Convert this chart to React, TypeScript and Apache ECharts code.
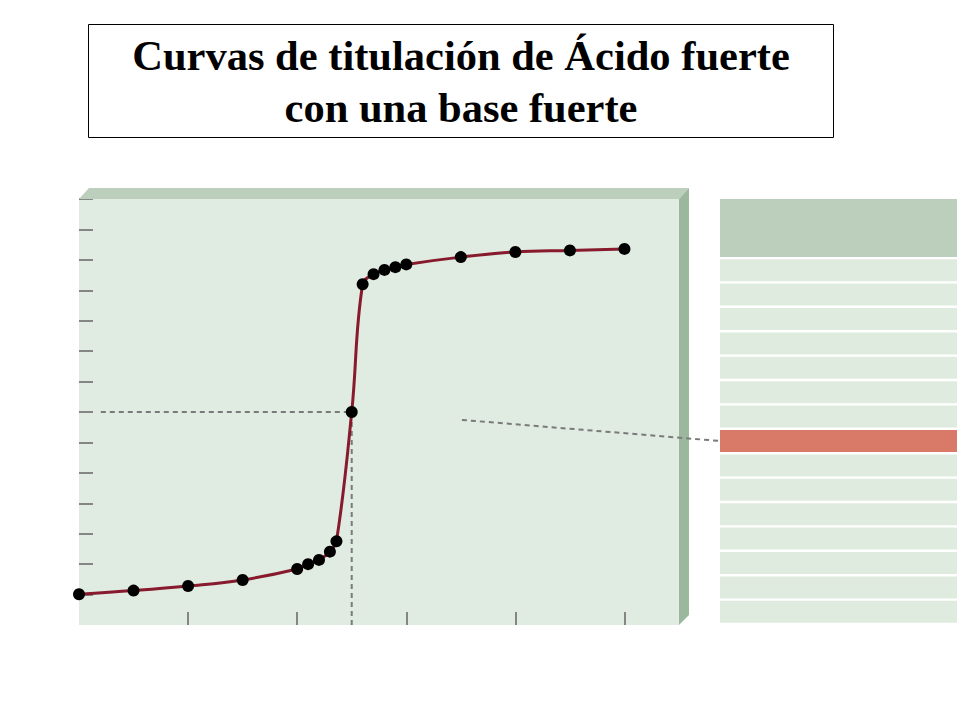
import React, { useEffect, useRef } from "react";
import * as echarts from "echarts";

// ---- data ----
const titleLines = ["Curvas de titulación de Ácido fuerte", "con una base fuerte"];
const volumes = [0, 5, 10, 15, 20, 21, 22, 23, 23.6, 25, 26, 27, 28, 29, 30, 35, 40, 45, 50];
const phValues = [1.01, 1.13, 1.28, 1.48, 1.84, 2.0, 2.14, 2.41, 2.75, 7.0, 11.2, 11.53, 11.67, 11.76, 11.85, 12.09, 12.26, 12.31, 12.36];
const yTickValues = [1, 2, 3, 4, 5, 6, 7, 8, 9, 10, 11, 12, 13, 14];
const xTickValues = [10, 20, 30, 40, 50];
const xRange = [0, 55];
const yRange = [0, 14];
const equivalenceVolume = 25;
const equivalencePH = 7;
const guideStartVolume = 2;
const connectorStart = [35.1, 6.74];
const tableRows = ["14", "13", "12", "11", "10", "9", "8", "7", "6", "5", "4", "3", "2", "1", "0"];
const highlightedRow = "7";

// ---- colours ----
const faceColor = "#e0ebe1";
const topColor = "#bccfbd";
const sideColor = "#9bb89e";
const rowColor = "#e0ebe0";
const redRow = "#d97968";
const curveColor = "#871a2c";
const tickColor = "#858585";
const dashColor = "#7a7a7a";

function buildGraphics(connector: number[][] | null) {
  const els: any[] = [
    {
      id: "titleBox",
      type: "rect",
      z: 1,
      shape: { x: 88.5, y: 24.5, width: 745, height: 113 },
      style: { fill: "#ffffff", stroke: "#000000", lineWidth: 1 },
    },
    {
      id: "titleText",
      type: "text",
      z: 2,
      x: 461,
      y: 81,
      style: {
        text: titleLines.join("\n"),
        align: "center",
        verticalAlign: "middle",
        font: 'bold 42.5px "Liberation Serif", "Times New Roman", serif',
        lineHeight: 52,
        fill: "#000000",
      },
    },
    {
      id: "topFace",
      type: "polygon",
      z: 1,
      shape: { points: [[79, 199], [89, 188], [689, 188], [679, 199]] },
      style: { fill: topColor },
    },
    {
      id: "sideFace",
      type: "polygon",
      z: 1,
      shape: { points: [[679, 199], [689, 188], [689, 615], [679, 625]] },
      style: { fill: sideColor },
    },
    {
      id: "tableHeader",
      type: "rect",
      z: 1,
      shape: { x: 720, y: 199, width: 237, height: 58 },
      style: { fill: topColor },
    },
  ];
  if (connector) {
    els.push({
      id: "connector",
      type: "line",
      z: 50,
      silent: true,
      shape: {
        x1: connector[0][0],
        y1: connector[0][1],
        x2: connector[1][0],
        y2: connector[1][1],
      },
      style: { stroke: dashColor, lineWidth: 2, lineDash: [5, 4] },
    });
  }
  return els;
}

export default function App() {
  const ref = useRef<HTMLDivElement>(null);

  useEffect(() => {
    if (!ref.current) return;
    const chart = echarts.init(ref.current, undefined, { renderer: "svg" });

    const curveData = volumes.map((v, i) => [v, phValues[i]]);
    const guideData = [
      [guideStartVolume, equivalencePH],
      [equivalenceVolume, equivalencePH],
      [equivalenceVolume, yRange[0]],
    ];

    const option: any = {
      animation: false,
      backgroundColor: "#ffffff",
      grid: [
        {
          left: 79,
          top: 199,
          width: 600,
          height: 426,
          show: true,
          backgroundColor: faceColor,
          borderWidth: 0,
        },
        {
          left: 720,
          top: 258,
          width: 237,
          height: 366,
          show: false,
        },
      ],
      xAxis: [
        {
          type: "value",
          gridIndex: 0,
          min: xRange[0],
          max: xRange[1],
          axisLine: { show: false },
          axisLabel: { show: false },
          splitLine: { show: false },
          axisTick: {
            show: true,
            inside: true,
            length: 13,
            customValues: xTickValues,
            lineStyle: { color: tickColor, width: 2 },
          },
        },
        {
          type: "value",
          gridIndex: 1,
          min: 0,
          max: 1,
          show: false,
        },
      ],
      yAxis: [
        {
          type: "value",
          gridIndex: 0,
          min: yRange[0],
          max: yRange[1],
          axisLine: { show: false },
          axisLabel: { show: false },
          splitLine: { show: false },
          axisTick: {
            show: true,
            inside: true,
            length: 14,
            customValues: yTickValues,
            lineStyle: { color: tickColor, width: 2 },
          },
        },
        {
          type: "category",
          gridIndex: 1,
          data: tableRows,
          inverse: true,
          show: false,
        },
      ],
      graphic: buildGraphics(null),
      series: [
        {
          type: "bar",
          xAxisIndex: 1,
          yAxisIndex: 1,
          barWidth: 22,
          silent: true,
          z: 2,
          data: tableRows.map((r) => ({
            value: 1,
            itemStyle: { color: r === highlightedRow ? redRow : rowColor },
          })),
        },
        {
          type: "line",
          xAxisIndex: 0,
          yAxisIndex: 0,
          data: guideData,
          symbol: "none",
          silent: true,
          z: 3,
          lineStyle: { color: dashColor, width: 2, type: [5, 4] },
        },
        {
          type: "line",
          xAxisIndex: 0,
          yAxisIndex: 0,
          data: curveData,
          smooth: 0.4,
          symbol: "circle",
          symbolSize: 12,
          z: 4,
          itemStyle: { color: "#000000" },
          lineStyle: { color: curveColor, width: 3 },
        },
      ],
    };

    chart.setOption(option);

    const p1 = chart.convertToPixel({ xAxisIndex: 0, yAxisIndex: 0 }, connectorStart) as number[];
    const p2 = chart.convertToPixel({ xAxisIndex: 1, yAxisIndex: 1 }, [0, highlightedRow]) as number[];
    if (p1 && p2) {
      chart.setOption({ graphic: buildGraphics([p1, p2]) });
    }

    return () => chart.dispose();
  }, []);

  return (
    <div
      ref={ref}
      style={{ position: "absolute", left: 0, top: 0, width: 960, height: 720 }}
    />
  );
}
